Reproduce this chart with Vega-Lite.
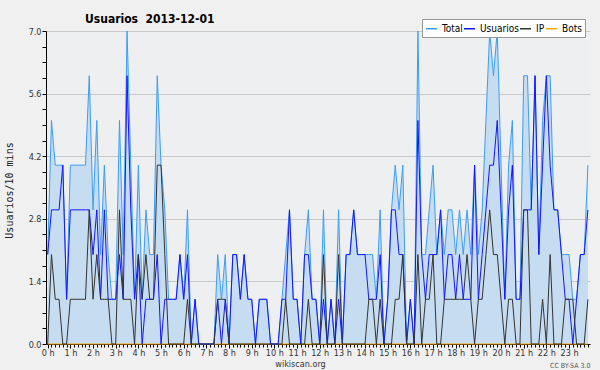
{
  "$schema": "https://vega.github.io/schema/vega-lite/v6.json",
  "width": 544,
  "height": 313,
  "autosize": {"type": "none"},
  "padding": {"left": 46, "top": 31, "right": 10, "bottom": 26},
  "background": "#f0f0f0",
  "config": {
    "view": {"fill": "#edeff1", "stroke": null},
    "font": "DejaVu Sans Condensed, DejaVu Sans, sans-serif",
    "axis": {"labelFont": "DejaVu Sans Condensed, DejaVu Sans, sans-serif", "titleFont": "DejaVu Sans Condensed, DejaVu Sans, sans-serif"}
  },
  "title": {
    "text": "Usuarios\u00a0 2013-12-01",
    "anchor": "start",
    "frame": "group",
    "dx": 39,
    "offset": -16,
    "baseline": "alphabetic",
    "fontSize": 12,
    "fontWeight": "bold",
    "font": "DejaVu Sans Condensed, DejaVu Sans, sans-serif",
    "color": "#000000"
  },
  "data": {"values": [
    {"i":0,"Total":2,"Usuarios":2,"IP":0,"Bots":0},
    {"i":1,"Total":5,"Usuarios":3,"IP":2,"Bots":0},
    {"i":2,"Total":4,"Usuarios":3,"IP":1,"Bots":0},
    {"i":3,"Total":4,"Usuarios":3,"IP":1,"Bots":0},
    {"i":4,"Total":4,"Usuarios":4,"IP":0,"Bots":0},
    {"i":5,"Total":1,"Usuarios":1,"IP":0,"Bots":0},
    {"i":6,"Total":4,"Usuarios":3,"IP":1,"Bots":0},
    {"i":7,"Total":4,"Usuarios":3,"IP":1,"Bots":0},
    {"i":8,"Total":4,"Usuarios":3,"IP":1,"Bots":0},
    {"i":9,"Total":4,"Usuarios":3,"IP":1,"Bots":0},
    {"i":10,"Total":4,"Usuarios":3,"IP":1,"Bots":0},
    {"i":11,"Total":6,"Usuarios":3,"IP":3,"Bots":0},
    {"i":12,"Total":3,"Usuarios":2,"IP":1,"Bots":0},
    {"i":13,"Total":5,"Usuarios":3,"IP":2,"Bots":0},
    {"i":14,"Total":2,"Usuarios":1,"IP":1,"Bots":0},
    {"i":15,"Total":4,"Usuarios":3,"IP":1,"Bots":0},
    {"i":16,"Total":2,"Usuarios":1,"IP":1,"Bots":0},
    {"i":17,"Total":1,"Usuarios":1,"IP":0,"Bots":0},
    {"i":18,"Total":1,"Usuarios":1,"IP":0,"Bots":0},
    {"i":19,"Total":5,"Usuarios":2,"IP":3,"Bots":0},
    {"i":20,"Total":2,"Usuarios":1,"IP":1,"Bots":0},
    {"i":21,"Total":7,"Usuarios":6,"IP":1,"Bots":0},
    {"i":22,"Total":4,"Usuarios":3,"IP":1,"Bots":0},
    {"i":23,"Total":1,"Usuarios":1,"IP":0,"Bots":0},
    {"i":24,"Total":4,"Usuarios":2,"IP":2,"Bots":0},
    {"i":25,"Total":1,"Usuarios":0,"IP":1,"Bots":0},
    {"i":26,"Total":3,"Usuarios":1,"IP":2,"Bots":0},
    {"i":27,"Total":2,"Usuarios":1,"IP":1,"Bots":0},
    {"i":28,"Total":2,"Usuarios":1,"IP":1,"Bots":0},
    {"i":29,"Total":6,"Usuarios":2,"IP":4,"Bots":0},
    {"i":30,"Total":4,"Usuarios":0,"IP":4,"Bots":0},
    {"i":31,"Total":3,"Usuarios":1,"IP":2,"Bots":0},
    {"i":32,"Total":1,"Usuarios":1,"IP":0,"Bots":0},
    {"i":33,"Total":1,"Usuarios":1,"IP":0,"Bots":0},
    {"i":34,"Total":1,"Usuarios":1,"IP":0,"Bots":0},
    {"i":35,"Total":2,"Usuarios":2,"IP":0,"Bots":0},
    {"i":36,"Total":1,"Usuarios":1,"IP":0,"Bots":0},
    {"i":37,"Total":3,"Usuarios":2,"IP":1,"Bots":0},
    {"i":38,"Total":0,"Usuarios":0,"IP":0,"Bots":0},
    {"i":39,"Total":1,"Usuarios":1,"IP":0,"Bots":0},
    {"i":40,"Total":0,"Usuarios":0,"IP":0,"Bots":0},
    {"i":41,"Total":0,"Usuarios":0,"IP":0,"Bots":0},
    {"i":42,"Total":0,"Usuarios":0,"IP":0,"Bots":0},
    {"i":43,"Total":0,"Usuarios":0,"IP":0,"Bots":0},
    {"i":44,"Total":0,"Usuarios":0,"IP":0,"Bots":0},
    {"i":45,"Total":2,"Usuarios":1,"IP":1,"Bots":0},
    {"i":46,"Total":1,"Usuarios":0,"IP":1,"Bots":0},
    {"i":47,"Total":2,"Usuarios":1,"IP":1,"Bots":0},
    {"i":48,"Total":0,"Usuarios":0,"IP":0,"Bots":0},
    {"i":49,"Total":2,"Usuarios":2,"IP":0,"Bots":0},
    {"i":50,"Total":2,"Usuarios":2,"IP":0,"Bots":0},
    {"i":51,"Total":1,"Usuarios":1,"IP":0,"Bots":0},
    {"i":52,"Total":2,"Usuarios":2,"IP":0,"Bots":0},
    {"i":53,"Total":1,"Usuarios":1,"IP":0,"Bots":0},
    {"i":54,"Total":1,"Usuarios":1,"IP":0,"Bots":0},
    {"i":55,"Total":0,"Usuarios":0,"IP":0,"Bots":0},
    {"i":56,"Total":1,"Usuarios":1,"IP":0,"Bots":0},
    {"i":57,"Total":1,"Usuarios":1,"IP":0,"Bots":0},
    {"i":58,"Total":1,"Usuarios":1,"IP":0,"Bots":0},
    {"i":59,"Total":0,"Usuarios":0,"IP":0,"Bots":0},
    {"i":60,"Total":0,"Usuarios":0,"IP":0,"Bots":0},
    {"i":61,"Total":0,"Usuarios":0,"IP":0,"Bots":0},
    {"i":62,"Total":1,"Usuarios":1,"IP":0,"Bots":0},
    {"i":63,"Total":2,"Usuarios":1,"IP":1,"Bots":0},
    {"i":64,"Total":3,"Usuarios":3,"IP":0,"Bots":0},
    {"i":65,"Total":1,"Usuarios":1,"IP":0,"Bots":0},
    {"i":66,"Total":1,"Usuarios":1,"IP":0,"Bots":0},
    {"i":67,"Total":0,"Usuarios":0,"IP":0,"Bots":0},
    {"i":68,"Total":2,"Usuarios":2,"IP":0,"Bots":0},
    {"i":69,"Total":3,"Usuarios":2,"IP":1,"Bots":0},
    {"i":70,"Total":1,"Usuarios":1,"IP":0,"Bots":0},
    {"i":71,"Total":1,"Usuarios":1,"IP":0,"Bots":0},
    {"i":72,"Total":0,"Usuarios":0,"IP":0,"Bots":0},
    {"i":73,"Total":3,"Usuarios":1,"IP":2,"Bots":0},
    {"i":74,"Total":0,"Usuarios":0,"IP":0,"Bots":0},
    {"i":75,"Total":1,"Usuarios":1,"IP":0,"Bots":0},
    {"i":76,"Total":0,"Usuarios":0,"IP":0,"Bots":0},
    {"i":77,"Total":3,"Usuarios":1,"IP":2,"Bots":0},
    {"i":78,"Total":0,"Usuarios":0,"IP":0,"Bots":0},
    {"i":79,"Total":2,"Usuarios":2,"IP":0,"Bots":0},
    {"i":80,"Total":2,"Usuarios":2,"IP":0,"Bots":0},
    {"i":81,"Total":3,"Usuarios":3,"IP":0,"Bots":0},
    {"i":82,"Total":2,"Usuarios":2,"IP":0,"Bots":0},
    {"i":83,"Total":2,"Usuarios":2,"IP":0,"Bots":0},
    {"i":84,"Total":2,"Usuarios":2,"IP":0,"Bots":0},
    {"i":85,"Total":2,"Usuarios":1,"IP":1,"Bots":0},
    {"i":86,"Total":2,"Usuarios":1,"IP":1,"Bots":0},
    {"i":87,"Total":1,"Usuarios":1,"IP":0,"Bots":0},
    {"i":88,"Total":3,"Usuarios":2,"IP":1,"Bots":0},
    {"i":89,"Total":0,"Usuarios":0,"IP":0,"Bots":0},
    {"i":90,"Total":1,"Usuarios":1,"IP":0,"Bots":0},
    {"i":91,"Total":3,"Usuarios":3,"IP":0,"Bots":0},
    {"i":92,"Total":4,"Usuarios":3,"IP":1,"Bots":0},
    {"i":93,"Total":3,"Usuarios":2,"IP":1,"Bots":0},
    {"i":94,"Total":4,"Usuarios":2,"IP":2,"Bots":0},
    {"i":95,"Total":0,"Usuarios":0,"IP":0,"Bots":0},
    {"i":96,"Total":1,"Usuarios":1,"IP":0,"Bots":0},
    {"i":97,"Total":0,"Usuarios":0,"IP":0,"Bots":0},
    {"i":98,"Total":7,"Usuarios":5,"IP":2,"Bots":0},
    {"i":99,"Total":2,"Usuarios":2,"IP":0,"Bots":0},
    {"i":100,"Total":2,"Usuarios":1,"IP":1,"Bots":0},
    {"i":101,"Total":3,"Usuarios":2,"IP":1,"Bots":0},
    {"i":102,"Total":4,"Usuarios":2,"IP":2,"Bots":0},
    {"i":103,"Total":2,"Usuarios":2,"IP":0,"Bots":0},
    {"i":104,"Total":3,"Usuarios":3,"IP":0,"Bots":0},
    {"i":105,"Total":2,"Usuarios":1,"IP":1,"Bots":0},
    {"i":106,"Total":3,"Usuarios":2,"IP":1,"Bots":0},
    {"i":107,"Total":3,"Usuarios":2,"IP":1,"Bots":0},
    {"i":108,"Total":2,"Usuarios":1,"IP":1,"Bots":0},
    {"i":109,"Total":3,"Usuarios":2,"IP":1,"Bots":0},
    {"i":110,"Total":2,"Usuarios":1,"IP":1,"Bots":0},
    {"i":111,"Total":3,"Usuarios":1,"IP":2,"Bots":0},
    {"i":112,"Total":2,"Usuarios":1,"IP":1,"Bots":0},
    {"i":113,"Total":4,"Usuarios":4,"IP":0,"Bots":0},
    {"i":114,"Total":2,"Usuarios":1,"IP":1,"Bots":0},
    {"i":115,"Total":3,"Usuarios":2,"IP":1,"Bots":0},
    {"i":116,"Total":5,"Usuarios":3,"IP":2,"Bots":0},
    {"i":117,"Total":7,"Usuarios":4,"IP":3,"Bots":0},
    {"i":118,"Total":6,"Usuarios":4,"IP":2,"Bots":0},
    {"i":119,"Total":7,"Usuarios":5,"IP":2,"Bots":0},
    {"i":120,"Total":4,"Usuarios":3,"IP":1,"Bots":0},
    {"i":121,"Total":1,"Usuarios":1,"IP":0,"Bots":0},
    {"i":122,"Total":4,"Usuarios":3,"IP":1,"Bots":0},
    {"i":123,"Total":5,"Usuarios":4,"IP":1,"Bots":0},
    {"i":124,"Total":1,"Usuarios":1,"IP":0,"Bots":0},
    {"i":125,"Total":1,"Usuarios":1,"IP":0,"Bots":0},
    {"i":126,"Total":6,"Usuarios":3,"IP":3,"Bots":0},
    {"i":127,"Total":6,"Usuarios":3,"IP":3,"Bots":0},
    {"i":128,"Total":3,"Usuarios":3,"IP":0,"Bots":0},
    {"i":129,"Total":6,"Usuarios":6,"IP":0,"Bots":0},
    {"i":130,"Total":2,"Usuarios":2,"IP":0,"Bots":0},
    {"i":131,"Total":5,"Usuarios":4,"IP":1,"Bots":0},
    {"i":132,"Total":6,"Usuarios":6,"IP":0,"Bots":0},
    {"i":133,"Total":6,"Usuarios":4,"IP":2,"Bots":0},
    {"i":134,"Total":3,"Usuarios":3,"IP":0,"Bots":0},
    {"i":135,"Total":3,"Usuarios":3,"IP":0,"Bots":0},
    {"i":136,"Total":2,"Usuarios":2,"IP":0,"Bots":0},
    {"i":137,"Total":2,"Usuarios":1,"IP":1,"Bots":0},
    {"i":138,"Total":2,"Usuarios":1,"IP":1,"Bots":0},
    {"i":139,"Total":1,"Usuarios":0,"IP":1,"Bots":0},
    {"i":140,"Total":1,"Usuarios":1,"IP":0,"Bots":0},
    {"i":141,"Total":2,"Usuarios":2,"IP":0,"Bots":0},
    {"i":142,"Total":2,"Usuarios":2,"IP":0,"Bots":0},
    {"i":143,"Total":4,"Usuarios":3,"IP":1,"Bots":0}
  ]},
  "transform": [{"fold": ["Total", "Usuarios", "IP", "Bots"], "as": ["serie", "valor"]}],
  "encoding": {
    "y": {
      "field": "valor",
      "type": "quantitative",
      "scale": {"domain": [0, 7], "nice": false, "zero": true},
      "axis": {
        "values": [0, 0.35, 0.7, 1.05, 1.4, 1.75, 2.1, 2.45, 2.8, 3.15, 3.5, 3.85, 4.2, 4.55, 4.9, 5.25, 5.6, 5.95, 6.3, 6.65, 7],
        "labelExpr": "abs(datum.value/1.4 - round(datum.value/1.4)) < 0.01 ? format(datum.value, '.1f') : ''",
        "labelOverlap": false,
        "labelFlush": false,
        "grid": true,
        "gridColor": "#c8c8c8",
        "gridWidth": 1,
        "gridOpacity": {"condition": {"test": "abs(datum.value/1.4 - round(datum.value/1.4)) < 0.01 && datum.value > 0", "value": 1}, "value": 0},
        "domainColor": "#000000",
        "tickColor": "#000000",
        "tickSize": 4,
        "labelFontSize": 9,
        "labelColor": "#333333",
        "labelPadding": 1,
        "title": "Usuarios/10 mins",
        "titleFont": "DejaVu Sans Mono",
        "titleFontSize": 10,
        "titleFontWeight": "normal",
        "titleColor": "#222222",
        "titleX": -37,
        "titleY": 159,
        "titleAngle": 270,
        "titleAlign": "center",
        "titleBaseline": "middle"
      }
    }
  },
  "layer": [
    {
      "transform": [{"filter": "datum.serie === 'Total'"}],
      "mark": {"type": "area", "fill": "#c6dcf0", "interpolate": "linear"},
      "encoding": {
        "x": {
          "field": "i",
          "type": "quantitative",
          "scale": {"domain": [-0.45, 143.55], "nice": false, "zero": false},
          "axis": {
            "tickCount": 144,
            "labelExpr": "datum.value % 6 === 0 ? (datum.value/6) + ' h' : ''",
            "labelOverlap": false,
            "labelFlush": false,
            "grid": false,
            "domainColor": "#000000",
            "tickColor": "#000000",
            "tickSize": {"condition": {"test": "datum.value % 6 === 0", "value": 4}, "value": 3},
            "labelFontSize": 9,
            "labelPadding": 0,
            "labelColor": "#333333",
            "title": "wikiscan.org",
            "titleFontSize": 9,
            "titleFontWeight": "normal",
            "titleColor": "#333333",
            "titleX": 254,
            "titleY": 15,
            "titleBaseline": "top"
          }
        }
      }
    },
    {
      "transform": [{"filter": "datum.serie === 'Bots'"}],
      "mark": {"type": "line", "strokeWidth": 1},
      "encoding": {
        "x": {"field": "i", "type": "quantitative", "axis": null},
        "color": {
          "field": "serie",
          "type": "nominal",
          "scale": {"domain": ["Total", "Usuarios", "IP", "Bots"], "range": ["#3d9df5", "#1414ff", "#333333", "#ffa500"]},
          "legend": {
            "orient": "none",
            "legendX": 376,
            "legendY": -12,
            "direction": "horizontal",
            "title": null,
            "fillColor": "#ffffff",
            "strokeColor": "#999999",
            "padding": 3,
            "symbolType": "stroke",
            "symbolSize": 121,
            "symbolStrokeWidth": 1.5,
            "labelFontSize": 10,
            "labelFont": "DejaVu Sans Condensed, DejaVu Sans, sans-serif",
            "labelColor": "#000000",
            "labelOffset": 4,
            "columnPadding": -2
          }
        }
      }
    },
    {
      "transform": [{"filter": "datum.serie !== 'Bots'"}],
      "mark": {"type": "line", "strokeWidth": 1},
      "encoding": {
        "x": {
          "field": "i",
          "type": "quantitative",
          "axis": {
            "orient": "bottom",
            "domain": false,
            "ticks": false,
            "labels": false,
            "grid": false,
            "title": "CC BY-SA 3.0",
            "titleFontSize": 7,
            "titleFontWeight": "normal",
            "titleColor": "#555555",
            "titleX": 544,
            "titleY": 17,
            "titleAlign": "right",
            "titleBaseline": "top"
          }
        },
        "color": {"field": "serie", "type": "nominal"}
      }
    }
  ],
  "resolve": {"axis": {"x": "independent"}}
}
